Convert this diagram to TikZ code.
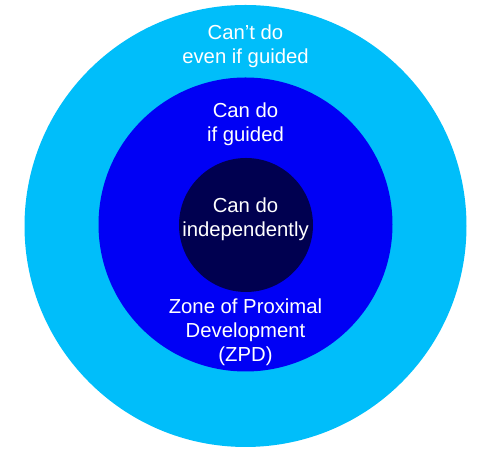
\documentclass[tikz,border=0pt]{standalone}
\usepackage{fontspec}
\setmainfont{Liberation Sans}
\usepackage{xcolor}
\usepackage{tikz}
\usetikzlibrary{positioning}

\definecolor{zoneout}{RGB}{0,190,250}
\definecolor{zonemid}{RGB}{0,0,245}
\definecolor{zonein}{RGB}{0,0,80}

\begin{document}
\begin{tikzpicture}[
    x=1pt, y=1pt,
    ring/.style={circle, draw=none, inner sep=0pt},
    label/.style={text=white, align=center, font=\fontsize{20.3}{24}\selectfont, inner sep=0pt}
]
\useasboundingbox (0,0) rectangle (491,454);
\fill[white] (0,0) rectangle (491,454);

% Rings
\node (outer) [ring, fill=zoneout, minimum size=442pt] at (245.5,228) {};
\node (middle) [ring, fill=zonemid, minimum size=294pt] at (245.5,229.5) {};
\node (inner) [ring, fill=zonein, minimum size=134pt] at (246,229) {};

% Labels (base = baseline of the last line)
\node (cant) [label, anchor=base] at (245.5,390) {Can't do\\even if guided};
\node (guided) [label, anchor=base] at (245.5,312) {Can do\\if guided};
\node (indep) [label, anchor=base] at (245.5,217) {Can do\\independently};
\node (zpd) [label, anchor=base] at (245.5,92) {Zone of Proximal\\Development\\(ZPD)};

\end{tikzpicture}
\end{document}
